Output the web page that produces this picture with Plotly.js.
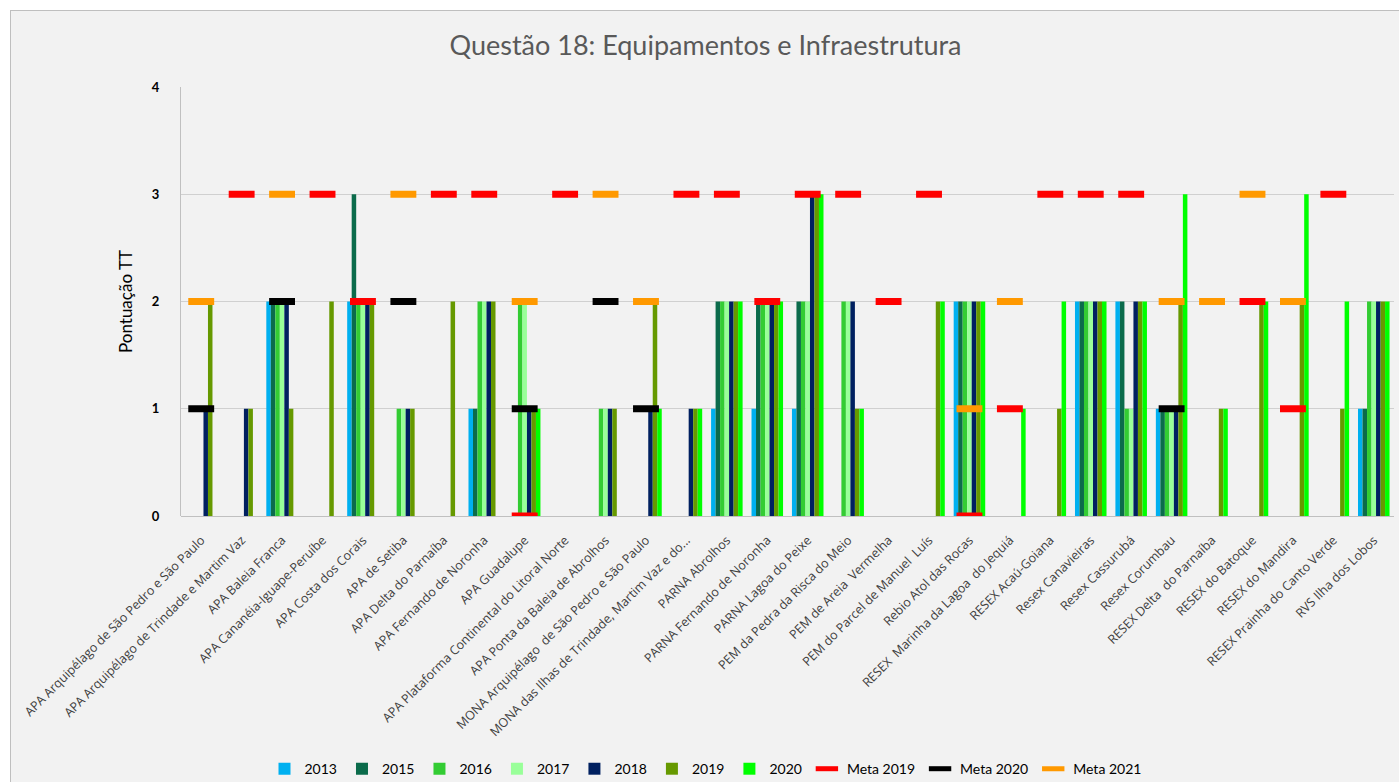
<!DOCTYPE html>
<html>
<head>
<meta charset="utf-8">
<script src="https://cdn.plot.ly/plotly-3.0.1.min.js"></script>
<style>
  html, body { margin:0; padding:0; background:#ffffff; }
  #chart { position:absolute; left:10px; top:10px; width:1389px; height:772px; background:#f2f2f2; border-left:1px solid #bfbfbf; border-top:1px solid #bfbfbf; box-sizing:border-box; }
</style>
</head>
<body>
<div id="chart"></div>
<script>
const categories = [
  "APA Arquipélago de São Pedro e São Paulo",
  "APA Arquipélago de Trindade e Martim Vaz",
  "APA Baleia Franca",
  "APA Cananéia-Iguape-Peruíbe",
  "APA Costa dos Corais",
  "APA de Setiba",
  "APA Delta do Parnaíba",
  "APA Fernando de Noronha",
  "APA Guadalupe",
  "APA Plataforma Continental do Litoral Norte",
  "APA Ponta da Baleia de Abrolhos",
  "MONA Arquipélago  de São Pedro e São Paulo",
  "MONA das Ilhas de Trindade, Martim Vaz e do...",
  "PARNA Abrolhos",
  "PARNA Fernando de Noronha",
  "PARNA Lagoa do Peixe",
  "PEM da Pedra da Risca do Meio",
  "PEM de Areia  Vermelha",
  "PEM do Parcel de Manuel  Luís",
  "Rebio Atol das Rocas",
  "RESEX  Marinha da Lagoa  do Jequiá",
  "RESEX Acaú-Goiana",
  "Resex Canavieiras",
  "Resex Cassurubá",
  "Resex Corumbau",
  "RESEX Delta  do Parnaíba",
  "RESEX do Batoque",
  "RESEX do Mandira",
  "RESEX Prainha do Canto Verde",
  "RVS Ilha dos Lobos"
];

const v2013 = [0,0,2,0,2,0,0,1,0,0,0,0,0,1,1,1,0,0,0,2,0,0,2,2,1,0,0,0,0,1];
const v2015 = [0,0,2,0,3,0,0,1,0,0,0,0,0,2,2,2,0,0,0,2,0,0,2,2,1,0,0,0,0,1];
const v2016 = [0,0,2,0,2,1,0,2,2,0,1,0,0,2,2,2,2,0,0,2,0,0,2,1,1,0,0,0,0,2];
const v2017 = [0,0,2,0,2,1,0,2,2,0,1,0,0,2,2,2,2,0,0,2,0,0,2,1,1,0,0,0,0,2];
const v2018 = [1,1,2,0,2,1,0,2,1,0,1,1,1,2,2,3,2,0,0,2,0,0,2,2,1,0,0,0,0,2];
const v2019 = [2,1,1,2,2,1,2,2,1,0,1,2,1,2,2,3,1,0,2,2,0,1,2,2,2,1,2,2,1,2];
const v2020 = [0,0,0,0,0,0,0,0,1,0,0,1,1,2,2,3,1,0,2,2,1,2,2,2,3,1,2,3,2,2];

const meta2019 = [null,3,null,3,2,null,3,3,0,3,null,null,3,3,2,3,3,2,3,0,1,3,3,3,null,null,2,1,3,null];
const meta2020 = [1,null,2,null,null,2,null,null,1,null,2,1,null,null,null,null,null,null,null,null,null,null,null,null,1,null,null,null,null,null];
const meta2021 = [2,null,3,null,null,3,null,null,2,null,3,2,null,null,null,null,null,null,null,1,2,null,null,null,2,2,3,2,null,null];

const barSeries = [
  {name:"2013", y:v2013, color:"#00b0f0"},
  {name:"2015", y:v2015, color:"#0b6b4b"},
  {name:"2016", y:v2016, color:"#33cc33"},
  {name:"2017", y:v2017, color:"#99ff99"},
  {name:"2018", y:v2018, color:"#002060"},
  {name:"2019", y:v2019, color:"#669900"},
  {name:"2020", y:v2020, color:"#00ff00"}
];
const metaSeries = [
  {name:"Meta 2019", y:meta2019, color:"#ff0000"},
  {name:"Meta 2020", y:meta2020, color:"#000000"},
  {name:"Meta 2021", y:meta2021, color:"#ff9900"}
];

const traces = [];
barSeries.forEach(s => traces.push({
  type:"bar", name:s.name, x:categories, y:s.y,
  marker:{color:s.color}
}));
metaSeries.forEach(s => traces.push({
  type:"scatter", mode:"markers", name:s.name, x:categories, y:s.y,
  marker:{symbol:"line-ew", size:18.5, color:s.color, line:{color:s.color, width:7}}
}));

const layout = {
  width:1389, height:772,
  paper_bgcolor:"#f2f2f2", plot_bgcolor:"#f2f2f2",
  margin:{l:170, r:6, t:76, b:267},
  barmode:"group", bargap:0.22, bargroupgap:0,
  font:{family:"Lato, 'Open Sans', sans-serif", color:"#404040"},
  title:{text:"Questão 18: Equipamentos e Infraestrutura", x:0.5, xref:"container", y:0.955, yref:"container", yanchor:"middle",
         font:{size:27, color:"#595959", family:"Lato, sans-serif"}},
  xaxis:{type:"category", range:[-0.5, 29.5], tickangle:-45,
         tickfont:{size:12.5, color:"#404040", family:"'Open Sans', sans-serif"},
         ticks:"outside", ticklen:11, tickcolor:"rgba(0,0,0,0)",
         showgrid:false, showline:false, zeroline:false, automargin:false},
  yaxis:{range:[0,4], dtick:1, tickfont:{size:13, color:"#000000", family:"Lato, sans-serif", weight:"bold"},
         ticks:"outside", ticklen:18, tickcolor:"rgba(0,0,0,0)",
         gridcolor:"#d0d0d0", gridwidth:1, zeroline:true, zerolinecolor:"#c0c0c0",
         showline:true, linecolor:"#c0c0c0", linewidth:1,
         title:{text:"Pontuação TT", font:{size:17, color:"#000000"}, standoff:14}, automargin:false},
  legend:{orientation:"h", xref:"container", yref:"container", x:0.5, xanchor:"center", y:0.018, yanchor:"middle",
          font:{size:14, color:"#000000"}, itemwidth:30, traceorder:"normal", bgcolor:"rgba(0,0,0,0)"},
  showlegend:true
};

Plotly.newPlot("chart", traces, layout, {displayModeBar:false, staticPlot:true});
</script>
</body>
</html>
